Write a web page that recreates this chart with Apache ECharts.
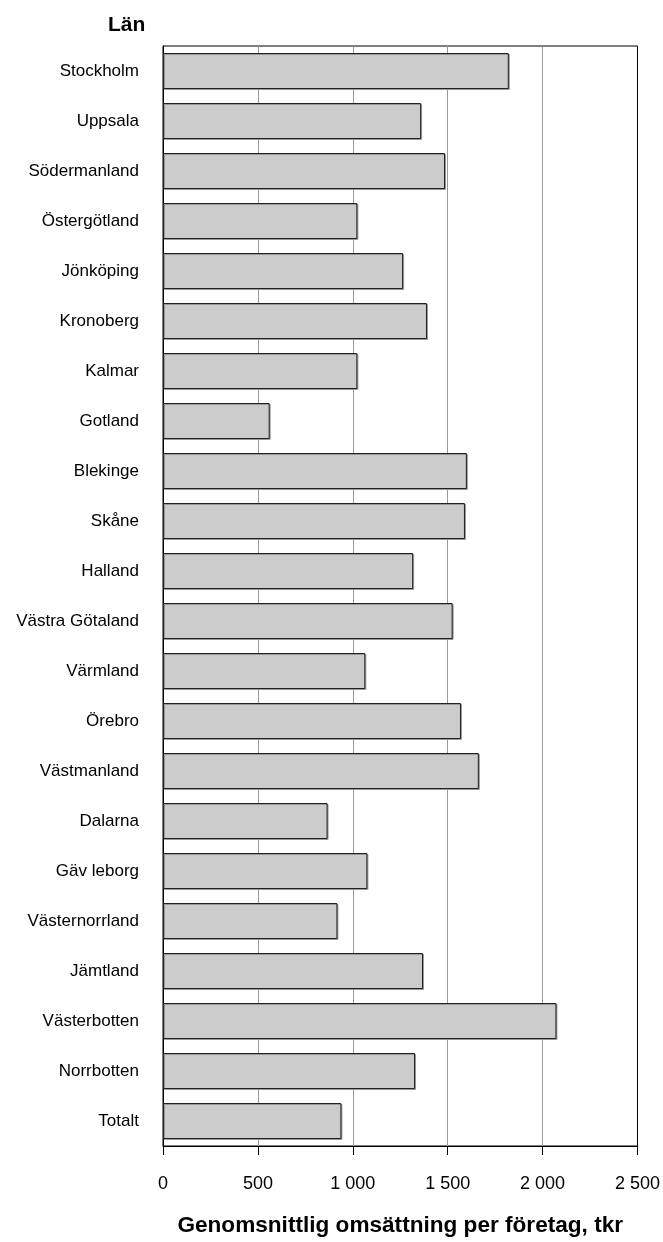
<!DOCTYPE html>
<html>
<head>
<meta charset="utf-8">
<title>Genomsnittlig omsättning per företag</title>
<script src="https://cdn.jsdelivr.net/npm/echarts@6/dist/echarts.min.js"></script>
<style>
  html, body { margin: 0; padding: 0; background: #fff; }
  #chart { width: 663px; height: 1242px; }
</style>
</head>
<body>
<div id="chart"></div>
<script>
// län, uppifrån och ned
const lan = [
  'Stockholm', 'Uppsala', 'Södermanland', 'Östergötland', 'Jönköping',
  'Kronoberg', 'Kalmar', 'Gotland', 'Blekinge', 'Skåne', 'Halland',
  'Västra Götaland', 'Värmland', 'Örebro', 'Västmanland', 'Dalarna',
  'Gäv leborg', 'Västernorrland', 'Jämtland', 'Västerbotten', 'Norrbotten', 'Totalt'
];

// genomsnittlig omsättning per företag, tkr (avläst)
const omsattning = [
  1822, 1360, 1486, 1024, 1265,
  1391, 1024, 562, 1601, 1591, 1318,
  1526, 1066, 1570, 1664, 867,
  1077, 919, 1370, 2073, 1328, 940
];

const xTicks = [0, 500, 1000, 1500, 2000, 2500];

const chart = echarts.init(document.getElementById('chart'));

const font = "'Liberation Sans', Arial, sans-serif";

const option = {
  animation: false,
  title: {
    text: 'Län',
    left: 103,
    top: 10,
    textStyle: { fontFamily: font, fontSize: 21, fontWeight: 'bold', color: '#000' }
  },
  grid: {
    left: 163,
    right: 25,
    top: 46,
    bottom: 84,
    show: true,
    borderColor: '#000',
    borderWidth: 1,
    backgroundColor: 'transparent'
  },
  xAxis: {
    type: 'value',
    min: xTicks[0],
    max: xTicks[xTicks.length - 1],
    interval: 500,
    name: 'Genomsnittlig omsättning per företag, tkr',
    nameLocation: 'middle',
    nameGap: 68,
    nameTextStyle: { fontFamily: font, fontSize: 22.6, fontWeight: 'bold', color: '#000' },
    axisLine: { show: true, lineStyle: { color: '#000', width: 1 } },
    axisTick: { show: true, length: 9, lineStyle: { color: '#000' } },
    axisLabel: {
      margin: 29,
      fontFamily: font,
      fontSize: 18,
      color: '#000',
      formatter: v => String(v).replace(/\B(?=(\d{3})+(?!\d))/g, ' ')
    },
    splitLine: {
      show: true,
      showMinLine: false,
      showMaxLine: false,
      lineStyle: { color: '#999', width: 1 }
    }
  },
  yAxis: {
    type: 'category',
    data: lan,
    inverse: true,
    axisLine: { show: true, lineStyle: { color: '#000', width: 1 } },
    axisTick: { show: false },
    axisLabel: {
      margin: 24,
      fontFamily: font,
      fontSize: 17,
      color: '#000'
    },
    splitLine: { show: false }
  },
  series: [{
    type: 'bar',
    data: omsattning,
    barCategoryGap: '28%',
    itemStyle: {
      color: '#cccccc',
      borderColor: '#222',
      borderWidth: 1,
      shadowColor: '#999',
      shadowBlur: 0,
      shadowOffsetX: 1,
      shadowOffsetY: 1
    },
    emphasis: { disabled: true }
  }]
};

chart.setOption(option);
</script>
</body>
</html>
